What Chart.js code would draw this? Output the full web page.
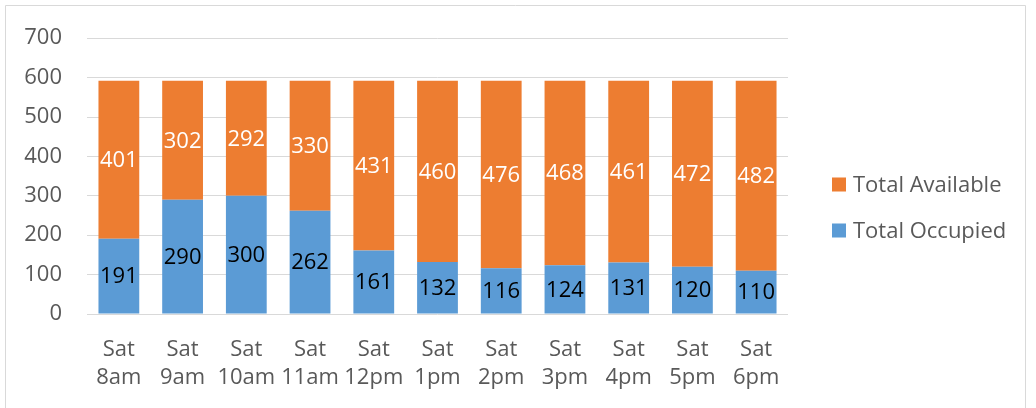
<!DOCTYPE html>
<html><head><meta charset="utf-8">
<script src="https://cdn.jsdelivr.net/npm/chart.js@4/dist/chart.umd.min.js"></script>
<style>html,body{margin:0;padding:0;background:#fff}#wrap{width:1036px;height:408px;position:relative}</style>
</head><body><div id="wrap"><canvas id="c" width="1036" height="408"></canvas></div>
<script>
const categories = [["Sat","8am"],["Sat","9am"],["Sat","10am"],["Sat","11am"],["Sat","12pm"],["Sat","1pm"],["Sat","2pm"],["Sat","3pm"],["Sat","4pm"],["Sat","5pm"],["Sat","6pm"]];
const occupied = [191,290,300,262,161,132,116,124,131,120,110];
const available = [401,302,292,330,431,460,476,468,461,472,482];
const yTickValues = [0,100,200,300,400,500,600,700];
const seriesNames = ["Total Occupied","Total Available"];
const seriesColors = ["#5B9BD5","#ED7D31"];
const labelColors = ["#000000","#FFFFFF"];

const FONT = '"Open Sans", "DejaVu Sans", sans-serif';
const GRAY = '#595959';

const borderPlugin = {
  id:'frame',
  beforeDraw(chart){
    const c = chart.ctx;
    c.save();
    c.fillStyle='#fff'; c.fillRect(0,0,chart.width,chart.height);
    c.strokeStyle='#d9d9d9'; c.lineWidth=1;
    c.beginPath();
    c.moveTo(5.5,412); c.lineTo(5.5,5.5); c.lineTo(1025.5,5.5); c.lineTo(1025.5,412);
    c.stroke();
    c.restore();
  }
};

const valueLabels = {
  id:'valueLabels',
  afterDatasetsDraw(chart){
    const c = chart.ctx;
    c.save();
    c.font = '22px ' + FONT;
    c.textAlign='center'; c.textBaseline='middle';
    chart.data.datasets.forEach((ds,di)=>{
      const meta = chart.getDatasetMeta(di);
      meta.data.forEach((el,i)=>{
        const cy = (el.y + el.base)/2;
        c.fillStyle = labelColors[di];
        c.fillText(String(ds.data[i]), el.x, cy+1);
      });
    });
    c.restore();
  }
};

const sideLegend = {
  id:'sideLegend',
  afterDraw(chart){
    const c = chart.ctx;
    c.save();
    c.font = '22px ' + FONT;
    c.textAlign='left'; c.textBaseline='middle';
    const ds = chart.data.datasets.slice().reverse();
    const centers = [184.5, 230.5];
    ds.forEach((d,i)=>{
      c.fillStyle = d.backgroundColor;
      c.fillRect(832, centers[i]-7, 14, 14);
      c.fillStyle = GRAY;
      c.fillText(d.label, 853, centers[i]+1);
    });
    c.restore();
  }
};

function draw(){
  new Chart(document.getElementById('c'), {
    type:'bar',
    data:{
      labels: categories,
      datasets:[
        {label: seriesNames[0], data: occupied, backgroundColor: seriesColors[0], barPercentage:0.64, categoryPercentage:1.0},
        {label: seriesNames[1], data: available, backgroundColor: seriesColors[1], barPercentage:0.64, categoryPercentage:1.0}
      ]
    },
    options:{
      responsive:false,
      animation:false,
      layout:{padding:{left:5,right:248,top:36,bottom:16}},
      plugins:{legend:{display:false}, tooltip:{enabled:false}},
      scales:{
        x:{
          stacked:true,
          afterFit(scale){ scale.height = 78; },
          grid:{display:false, drawTicks:false},
          border:{display:false},
          ticks:{color:GRAY, font:{family:FONT,size:22,lineHeight:28/22}, padding:22, maxRotation:0, autoSkip:false}
        },
        y:{
          stacked:true,
          min:0, max:700,
          afterBuildTicks(scale){ scale.ticks = yTickValues.map(v=>({value:v})); },
          afterFit(scale){ scale.width = 82; },
          grid:{color:'#d9d9d9', lineWidth:1, drawTicks:false},
          border:{display:false},
          ticks:{color:GRAY, font:{family:FONT,size:22}, padding:25}
        }
      }
    },
    plugins:[borderPlugin, valueLabels, sideLegend]
  });
}
if (document.fonts && document.fonts.load) {
  document.fonts.load('22px "Open Sans"').then(draw, draw);
} else draw();
</script>
</body></html>
